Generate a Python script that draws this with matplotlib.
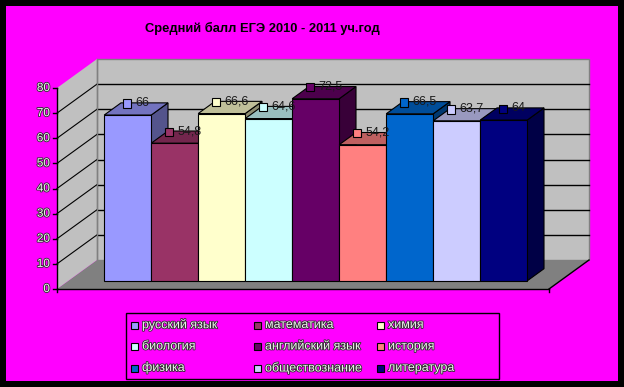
import matplotlib
matplotlib.use("Agg")
import matplotlib.pyplot as plt
import matplotlib.patheffects as pe
from matplotlib.patches import Polygon, Rectangle
from matplotlib.offsetbox import AnnotationBbox, HPacker, TextArea, DrawingArea
import matplotlib.transforms as mtransforms

# data
subjects = ["русский язык", "математика", "химия", "биология", "английский язык",
            "история", "физика", "обществознание", "литература"]
scores = [66, 54.8, 66.6, 64.6, 72.5, 54.2, 66.5, 63.7, 64]
colors = ["#9999FF", "#993366", "#FFFFCC", "#CCFFFF", "#660066",
          "#FF8080", "#0066CC", "#CCCCFF", "#000080"]
y_ticks = [0, 10, 20, 30, 40, 50, 60, 70, 80]
title = "Средний балл ЕГЭ 2010 - 2011 уч.год"

plt.rcParams["font.family"] = ["Liberation Sans", "DejaVu Sans"]

W_PX, H_PX = 624, 387
fig = plt.figure(figsize=(6.24, 3.87), dpi=100, facecolor="black")
px = mtransforms.Affine2D().scale(1 / W_PX, -1 / H_PX).translate(0, 1) + fig.transFigure

# magenta background inside black border
fig.patches.append(Rectangle((6, 6), 612, 375, transform=px, facecolor="#FF00FF",
                             edgecolor="none", zorder=-5))

# 3d geometry (category units on x, score units on y)
cat_px, val_px = 47, 2.5125
ax = fig.add_axes([0, 0, 1, 1])
ax.set_xlim(-57 / cat_px, (W_PX - 57) / cat_px)
ax.set_ylim(-(H_PX - 289) / val_px, 289 / val_px)
ax.axis("off")
ax.patch.set_visible(False)

dx, dv = 40 / cat_px, 29 / val_px        # full depth offset
floor_w = (549 - 57) / cat_px
top = y_ticks[-1]
f0, fd = 0.28, 0.42                       # bar depth position and thickness
x0 = 0.766

# walls and floor
ax.add_patch(Polygon([(0, 0), (floor_w, 0), (floor_w + dx, dv), (dx, dv)],
                     facecolor="#808080", edgecolor="none", zorder=1))
ax.add_patch(Polygon([(0, 0), (0, top), (dx, top + dv), (dx, dv)],
                     facecolor="#C0C0C0", edgecolor="none", zorder=1))
ax.add_patch(Rectangle((dx, dv), floor_w, top, facecolor="#C0C0C0",
                       edgecolor="#808080", lw=1, zorder=1))
for v in y_ticks[1:-1]:
    ax.plot([dx, dx + floor_w], [dv + v, dv + v], color="black", lw=1, zorder=2)
    ax.plot([0, dx], [v, dv + v], color="black", lw=0.8, zorder=2)
ax.plot([dx, dx], [dv, dv + top], color="#808080", lw=1, zorder=2)

# axes lines
ax.plot([0, 0], [0, top], color="black", lw=1, zorder=2)
ax.plot([0, floor_w], [0, 0], color="black", lw=1, zorder=2)
ax.plot([floor_w, floor_w + dx], [0, dv], color="black", lw=1, zorder=2)
for v in y_ticks:
    ax.plot([-4 / cat_px, 0], [v, v], color="black", lw=1, zorder=2)
    ax.text(-7 / cat_px, v, str(v), ha="right", va="center", fontsize=8.5,
            color="#f0f0f0", zorder=5,
            path_effects=[pe.withStroke(linewidth=1.2, foreground="#303030")])
for xe in [0, floor_w]:
    ax.plot([xe, xe], [0, -3 / val_px], color="black", lw=1, zorder=2)


def shade(c, k):
    r, g, b = matplotlib.colors.to_rgb(c)
    return (r * k, g * k, b * k)


# bars
for i, (v, c) in enumerate(zip(scores, colors)):
    xf = x0 + i + f0 * dx
    yf = f0 * dv
    ex, ey = fd * dx, fd * dv
    z = 3 + i * 0.1
    ax.add_patch(Polygon([(xf + 1, yf), (xf + 1, yf + v), (xf + 1 + ex, yf + v + ey),
                          (xf + 1 + ex, yf + ey)], facecolor=shade(c, 0.55),
                         edgecolor="black", lw=0.8, zorder=z))
    ax.add_patch(Polygon([(xf, yf + v), (xf + 1, yf + v), (xf + 1 + ex, yf + v + ey),
                          (xf + ex, yf + v + ey)], facecolor=shade(c, 0.75),
                         edgecolor="black", lw=0.8, zorder=z))
    ax.add_patch(Rectangle((xf, yf), 1, v, facecolor=c, edgecolor="black",
                           lw=0.8, zorder=z))

# value labels with colour keys
for i, (v, c) in enumerate(zip(scores, colors)):
    xf = x0 + i + f0 * dx
    cx = xf + 0.5 + fd * dx / 2
    cy = f0 * dv + v + fd * dv / 2
    da = DrawingArea(7, 7, 0, 0)
    da.add_artist(Rectangle((0, 0), 6, 6, facecolor=c, edgecolor="black", lw=0.8))
    ta = TextArea(f"{v:g}".replace(".", ","),
                  textprops=dict(fontsize=9, color="#1a1a1a"))
    box = HPacker(children=[da, ta], align="center", pad=0, sep=2)
    ab = AnnotationBbox(box, (cx, cy), xybox=(0, 0), boxcoords="offset points",
                        box_alignment=(0.5, 0), frameon=False, pad=0)
    ab.set_zorder(10)
    ax.add_artist(ab)

# title
fig.text(262 / W_PX, 1 - 28 / H_PX, title, ha="center", va="center",
         fontsize=9.3, fontweight="bold", color="black")

# legend (row-major, 3 columns)
fig.patches.append(Rectangle((126, 313), 373, 66, transform=px, facecolor="none",
                             edgecolor="black", lw=1))
col_x = [131, 254, 377]
row_y = [325, 346.5, 368]
for k, (name, c) in enumerate(zip(subjects, colors)):
    r, col = divmod(k, 3)
    fig.patches.append(Rectangle((col_x[col], row_y[r] - 3.5), 7, 7, transform=px,
                                 facecolor=c, edgecolor="black", lw=0.8))
    fig.text(col_x[col] + 11, row_y[r], name, transform=px, ha="left", va="center",
             fontsize=9, color="#f0f0f0",
             path_effects=[pe.withStroke(linewidth=1.2, foreground="#303030")])

fig.savefig("out.png", dpi=100, facecolor=fig.get_facecolor())
